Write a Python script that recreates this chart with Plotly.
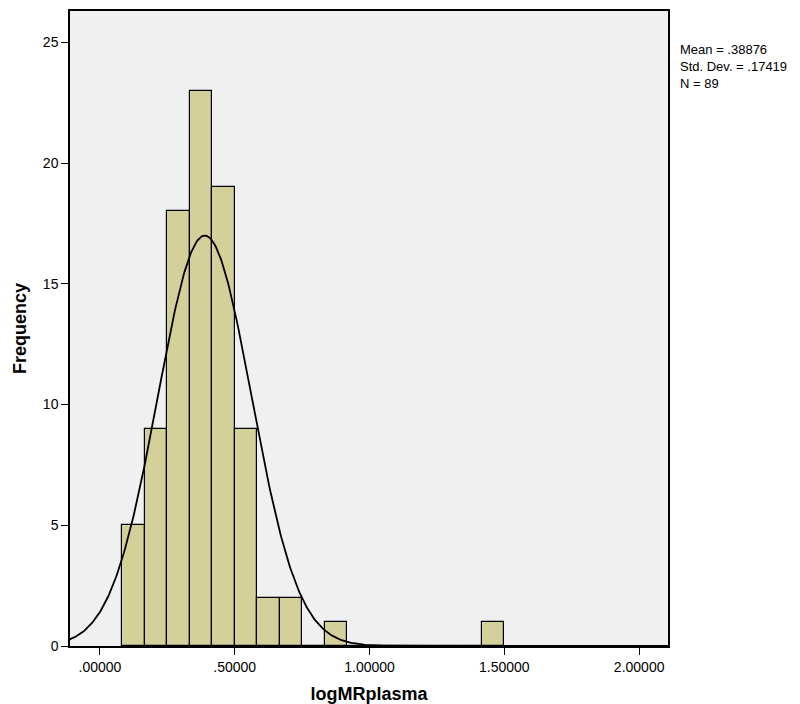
import numpy as np
import plotly.graph_objects as go

# histogram of logMRplasma (SPSS style)
bin_start = 0.0827
bin_width = 0.0834
counts = [5, 9, 18, 23, 19, 9, 2, 2, 0, 1, 0, 0, 0, 0, 0, 0, 1]
mean_val = 0.38876
std_val = 0.17419
n_val = 89
x_ticks = [0.0, 0.5, 1.0, 1.5, 2.0]
x_tick_labels = ['.00000', '.50000', '1.00000', '1.50000', '2.00000']
y_ticks = [0, 5, 10, 15, 20, 25]

centers = [bin_start + bin_width * (i + 0.5) for i in range(len(counts))]

fig = go.Figure()
fig.add_trace(go.Bar(
    x=centers, y=counts, width=bin_width,
    marker=dict(color='#D4D09A', line=dict(color='black', width=1.2)),
    hoverinfo='x+y'
))

# fitted normal curve
xs = np.linspace(-0.12, 2.12, 600)
ys = n_val * bin_width / (std_val * np.sqrt(2 * np.pi)) * np.exp(-0.5 * ((xs - mean_val) / std_val) ** 2)
fig.add_trace(go.Scatter(x=xs, y=ys, mode='lines', line=dict(color='black', width=1.8)))

fig.update_layout(
    width=800, height=704,
    margin=dict(l=62, r=140, t=3, b=66, autoexpand=False),
    paper_bgcolor='white', plot_bgcolor='#F0F0F0',
    showlegend=False, bargap=0,
    font=dict(family='Liberation Sans, Arial', size=14, color='black'),
    annotations=[dict(
        x=1.0, y=0.955, xref='paper', yref='paper', xanchor='left', yanchor='top',
        xshift=10, align='left', showarrow=False,
        font=dict(size=13),
        text='Mean = .38876<br>Std. Dev. = .17419<br>N = 89'
    )]
)
fig.update_xaxes(
    range=[-0.111, 2.107], tickvals=x_ticks, ticktext=x_tick_labels,
    ticks='outside', ticklen=7, tickcolor='black', showgrid=False, zeroline=False,
    showline=True, linecolor='black', linewidth=1.5, mirror=True, automargin=False,
    title=dict(text='<b>logMRplasma</b>', font=dict(size=18), standoff=14)
)
fig.update_yaxes(
    range=[0, 26.3], tickvals=y_ticks,
    ticks='outside', ticklen=7, tickcolor='black', showgrid=False, zeroline=False,
    showline=True, linecolor='black', linewidth=1.5, mirror=True, automargin=False,
    title=dict(text='<b>Frequency</b>', font=dict(size=18), standoff=12)
)

fig.write_html("out.html")
